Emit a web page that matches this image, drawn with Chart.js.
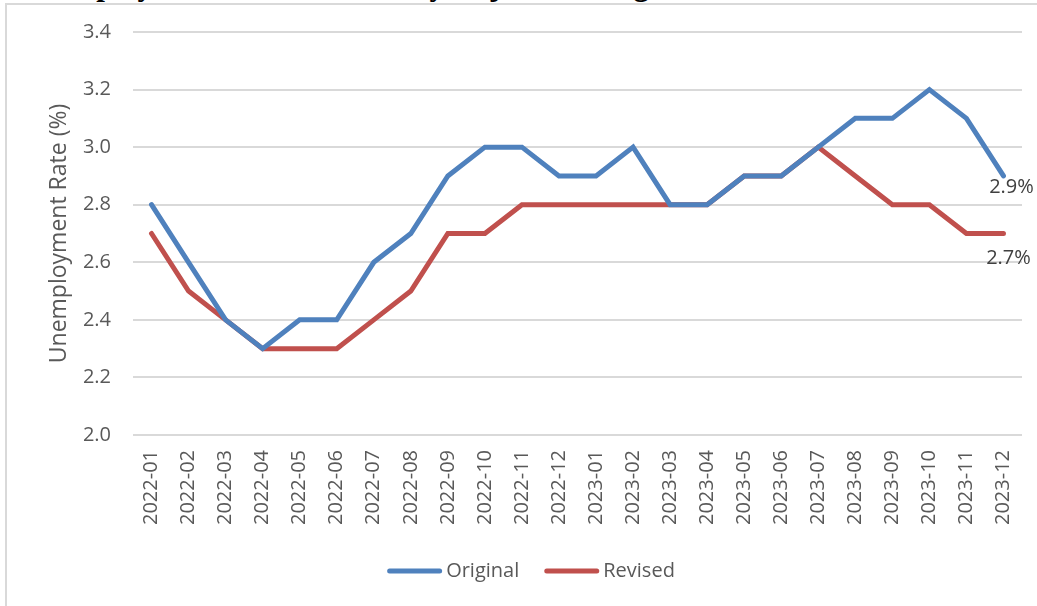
<!DOCTYPE html>
<html><head><meta charset="utf-8">
<script src="https://cdn.jsdelivr.net/npm/chart.js@4.4.0/dist/chart.umd.min.js"></script>
<style>
html,body{margin:0;padding:0;background:#fff;width:1037px;height:606px;overflow:hidden;position:relative}
#frame{position:absolute;left:5px;top:3px;width:1100px;height:700px;border:2px solid #d9d9d9;box-sizing:border-box}
#title{position:absolute;left:17px;top:-31px;font:bold 31px/31px "Liberation Serif","Times New Roman",serif;color:#000;white-space:nowrap}
#wrap{position:absolute;left:0;top:0;width:1037px;height:606px}
</style></head>
<body>
<div id="frame"></div>
<div id="title">Unemployment Rate, Seasonally Adjusted, Original and Revised, 2022–2023</div>
<div id="wrap"><canvas id="c" width="1037" height="606"></canvas></div>
<script>
const categories = ["2022-01","2022-02","2022-03","2022-04","2022-05","2022-06","2022-07","2022-08","2022-09","2022-10","2022-11","2022-12","2023-01","2023-02","2023-03","2023-04","2023-05","2023-06","2023-07","2023-08","2023-09","2023-10","2023-11","2023-12"];
const originalRate = [2.8,2.6,2.4,2.3,2.4,2.4,2.6,2.7,2.9,3.0,3.0,2.9,2.9,3.0,2.8,2.8,2.9,2.9,3.0,3.1,3.1,3.2,3.1,2.9];
const revisedRate  = [2.7,2.5,2.4,2.3,2.3,2.3,2.4,2.5,2.7,2.7,2.8,2.8,2.8,2.8,2.8,2.8,2.9,2.9,3.0,2.9,2.8,2.8,2.7,2.7];
const yTicks = [2.0,2.2,2.4,2.6,2.8,3.0,3.2,3.4];

const FONT = '"Open Sans", "Liberation Sans", sans-serif';
const GRAY = '#595959';

const endLabels = {
  id:'endLabels',
  afterDatasetsDraw(chart){
    const ctx = chart.ctx;
    const offs = [[8,11],[5,25]];
    chart.data.datasets.forEach((ds,i)=>{
      const meta = chart.getDatasetMeta(i);
      const last = meta.data[meta.data.length-1];
      const v = ds.data[ds.data.length-1];
      ctx.save();
      ctx.font = '20px ' + FONT;
      ctx.fillStyle = '#404040';
      ctx.textAlign = 'center';
      ctx.textBaseline = 'middle';
      ctx.fillText(v.toFixed(1) + '%', last.x + offs[i][0], last.y + offs[i][1]);
      ctx.restore();
    });
  }
};

const customLegend = {
  id:'customLegend',
  afterDraw(chart){
    const ctx = chart.ctx;
    ctx.save();
    ctx.font = '20px ' + FONT;
    const lineW = 55, gap = 4, itemGap = 25;
    const items = chart.data.datasets.map(ds=>({label:ds.label,color:ds.borderColor,w:lineW+gap+ctx.measureText(ds.label).width}));
    const total = items.reduce((a,b)=>a+b.w,0) + itemGap*(items.length-1);
    let x = 531 - total/2;
    const y = 571;
    items.forEach(it=>{
      ctx.strokeStyle = it.color;
      ctx.lineWidth = 5;
      ctx.lineCap = 'round';
      ctx.beginPath();
      ctx.moveTo(x+2.5,y); ctx.lineTo(x+lineW-2.5,y); ctx.stroke();
      ctx.fillStyle = GRAY;
      ctx.textAlign = 'left';
      ctx.textBaseline = 'middle';
      ctx.fillText(it.label, x+lineW+gap, y);
      x += it.w + itemGap;
    });
    ctx.restore();
  }
};

new Chart(document.getElementById('c'), {
  type:'line',
  data:{
    labels:categories,
    datasets:[
      {label:'Original', data:originalRate, borderColor:'#4F81BD', backgroundColor:'#4F81BD', borderWidth:5, pointRadius:0, tension:0, borderCapStyle:'round', borderJoinStyle:'miter'},
      {label:'Revised', data:revisedRate, borderColor:'#C0504D', backgroundColor:'#C0504D', borderWidth:5, pointRadius:0, tension:0, borderCapStyle:'round', borderJoinStyle:'miter'}
    ]
  },
  options:{
    responsive:false, animation:false,
    layout:{padding:{left:46,top:32,right:15,bottom:50}},
    plugins:{
      legend:{display:false},
      tooltip:{enabled:false}
    },
    scales:{
      x:{
        offset:true,
        grid:{display:false, drawTicks:false},
        border:{display:false},
        ticks:{font:{family:FONT,size:20}, color:GRAY, minRotation:90, maxRotation:90, padding:15, autoSkip:false},
        afterFit(s){ s.height = 121; s.paddingLeft = 0; s.paddingRight = 0; }
      },
      y:{
        min:2.0, max:3.4,
        afterBuildTicks(s){ s.ticks = yTicks.map(v=>({value:v})); },
        grid:{color:'#d9d9d9', lineWidth:2, drawTicks:false},
        border:{display:false},
        ticks:{font:{family:FONT,size:20}, color:GRAY, padding:22, callback:v=>v.toFixed(1)},
        title:{display:true, text:'Unemployment Rate (%)', font:{family:FONT,size:23}, color:GRAY, padding:{top:0,bottom:0}},
        afterFit(s){ s.width = 87; s.paddingTop = 0; s.paddingBottom = 0; }
      }
    }
  },
  plugins:[endLabels, customLegend]
});
</script>
</body></html>
